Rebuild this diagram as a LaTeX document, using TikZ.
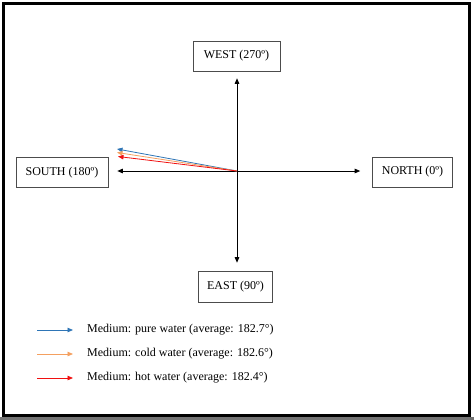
\documentclass[tikz,border=0pt]{standalone}
\usepackage{fontspec}
\setmainfont{Liberation Serif}
\usetikzlibrary{arrows.meta,positioning,calc}
\definecolor{pureblue}{HTML}{2E75B6}
\definecolor{coldorange}{HTML}{F4A060}
\definecolor{hotred}{HTML}{F01010}

\begin{document}
\begin{tikzpicture}[x=1pt,y=-1pt,
  dirbox/.style={rectangle, draw=black!70, line width=0.6pt, inner sep=0pt, font=\fontsize{12}{14}\selectfont},
  legtext/.style={anchor=west, inner sep=0pt, font=\fontsize{12}{14}\selectfont},
  arr/.style={line width=0.8pt, -{Triangle[length=5.5pt,width=4.5pt]}},
  every edge/.style={draw}
]
  % frame
  \useasboundingbox (0,0) rectangle (474,420);
  \fill[black!55] (0,417) rectangle (474,420);
  \draw[line width=3pt] (3.5,3.5) rectangle (469.5,415.5);

  % direction boxes
  \node[dirbox, minimum width=87pt, minimum height=30pt] (west) at (236.5,56) {WEST (270º)};
  \node[dirbox, minimum width=92pt, minimum height=30pt] (south) at (62,172.5) {SOUTH (180º)};
  \node[dirbox, minimum width=80pt, minimum height=30pt] (north) at (412.5,172) {NORTH (0º)};
  \node[dirbox, minimum width=74pt, minimum height=31pt] (east) at (235.5,286.5) {EAST (90º)};

  \coordinate (o) at (237,171);
  \coordinate (pure) at (117,149);
  \coordinate (cold) at (117,152.5);
  \coordinate (hot) at (118,156.5);

  \path
    (o) edge[arr, shorten >=7pt] (o |- west.south)
    (o) edge[arr, shorten >=8pt] (o |- east.north)
    (o) edge[arr, shorten >=9pt] (o -| south.east)
    (o) edge[arr, shorten >=12pt] (o -| north.west);

  \path
    (o) edge[arr, pureblue] (pure)
    (o) edge[arr, coldorange] (cold)
    (o) edge[arr, hotred] (hot);

  % legend
  \node[legtext] (lpure) at (87,330) {Medium: pure water (average: 182.7°)};
  \node[legtext] (lcold) at (87,354) {Medium: cold water (average: 182.6°)};
  \node[legtext] (lhot) at (87,378) {Medium: hot water (average: 182.4°)};
  \coordinate (spure) at (37,330);
  \coordinate (scold) at (37,354);
  \coordinate (shot) at (37,378);

  \path
    (spure) edge[arr, pureblue, shorten >=14pt] (lpure.west)
    (scold) edge[arr, coldorange, shorten >=14pt] (lcold.west)
    (shot) edge[arr, hotred, shorten >=14pt] (lhot.west);
\end{tikzpicture}
\end{document}
